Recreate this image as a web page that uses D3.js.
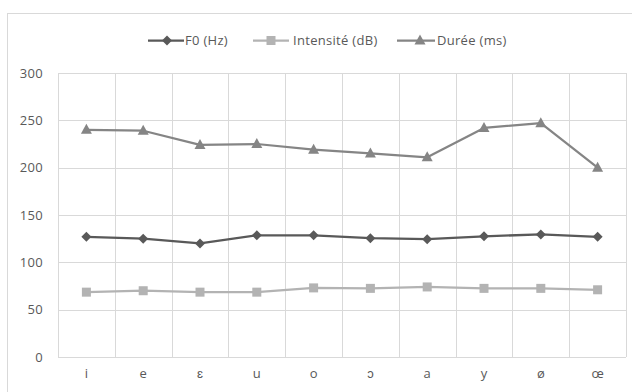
<!DOCTYPE html>
<html><head><meta charset="utf-8">
<script src="https://cdn.jsdelivr.net/npm/d3@7"></script>
<style>body{margin:0;background:#fff}svg{display:block}text{font-family:"Open Sans",sans-serif;fill:#595959}</style>
</head><body><svg id="c" width="632" height="392"></svg>
<script>
const categories = ["i","e","ɛ","u","o","ɔ","a","y","ø","œ"];
const f0 = [127,125,120,128.5,128.5,125.5,124.5,127.5,129.5,127];
const intensite = [68.5,70,68.5,68.5,73,72.5,74,72.5,72.5,71];
const duree = [240,239,224,225,219,215,211,242,247,200];
const yTicks = [0,50,100,150,200,250,300];
const seriesNames = ["F0 (Hz)","Intensité (dB)","Durée (ms)"];

const svg = d3.select("#c");
const W=632,H=392;
svg.append("rect").attr("x",7.5).attr("y",13.5).attr("width",W).attr("height",H).attr("fill","none").attr("stroke","#d9d9d9");

const x = d3.scaleBand().domain(categories).range([58,626]);
const y = d3.scaleLinear().domain([0,300]).range([357,73]);

const g = svg.append("g");
g.selectAll(".hg").data(yTicks).join("line")
  .attr("x1",58).attr("x2",626).attr("y1",d=>Math.round(y(d))+0.5).attr("y2",d=>Math.round(y(d))+0.5)
  .attr("stroke","#d9d9d9").attr("stroke-width",1);
const bounds = categories.map(c=>x(c)).concat([x.range()[1]]);
g.selectAll(".vg").data(bounds).join("line")
  .attr("x1",d=>Math.round(d)+0.5).attr("x2",d=>Math.round(d)+0.5).attr("y1",y(300)).attr("y2",y(0))
  .attr("stroke","#d9d9d9").attr("stroke-width",1);

const fontCss = "'Open Sans',sans-serif";
const yAxis = d3.axisLeft(y).tickValues(yTicks).tickSize(0).tickPadding(0);
const ya = svg.append("g").attr("transform","translate(43,0)").call(yAxis);
ya.select(".domain").remove();
ya.selectAll("text").attr("font-size","13px").attr("fill","#595959").style("font-family",fontCss).style("letter-spacing","0.3px");

const xAxis = d3.axisBottom(x).tickSize(0).tickPadding(0);
const xa = svg.append("g").attr("transform","translate(0,369)").call(xAxis);
xa.select(".domain").remove();
xa.selectAll("text").attr("font-size","13px").attr("fill","#595959").style("font-family",fontCss);

const cx = d => x(d)+x.bandwidth()/2;
const colors = ["#595959","#b3b3b3","#858585"];
const data = [f0,intensite,duree];
const line = d3.line().x((d,i)=>cx(categories[i])).y(d=>y(d));

function marker(sel, k, px, py){
  if(k===0){
    sel.append("path").attr("d",`M${px},${py-5}L${px+5},${py}L${px},${py+5}L${px-5},${py}Z`).attr("fill",colors[0]);
  } else if(k===1){
    sel.append("rect").attr("x",px-4.5).attr("y",py-4.5).attr("width",9).attr("height",9).attr("fill",colors[1]);
  } else {
    sel.append("path").attr("d",`M${px},${py-6}L${px+5.5},${py+4}L${px-5.5},${py+4}Z`).attr("fill",colors[2]);
  }
}

data.forEach((vals,k)=>{
  svg.append("path").datum(vals).attr("d",line).attr("fill","none").attr("stroke",colors[k]).attr("stroke-width",2.25).attr("stroke-linejoin","round");
  const mg = svg.append("g");
  vals.forEach((v,i)=>marker(mg,k,cx(categories[i]),y(v)));
});

const legX = [[148,184,167,185],[253,289,271,293],[397,435,420,437]];
seriesNames.forEach((n,k)=>{
  const [a,b,m,t] = legX[k];
  const lg = svg.append("g");
  lg.append("line").attr("x1",a).attr("x2",b).attr("y1",40.5).attr("y2",40.5).attr("stroke",colors[k]).attr("stroke-width",2.25);
  marker(lg,k,m,40.5);
  lg.append("text").attr("x",t).attr("y",45).attr("font-size","13px").style("letter-spacing","0.3px").text(n);
});
</script></body></html>
